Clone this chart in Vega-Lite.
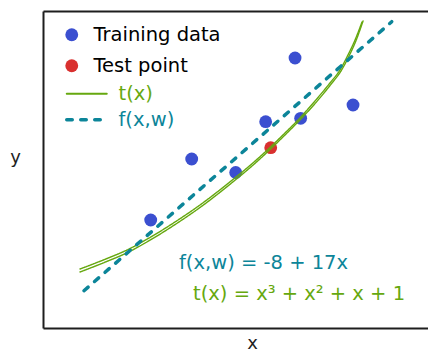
{
  "$schema": "https://vega.github.io/schema/vega-lite/v6.json",
  "width": 385,
  "height": 317,
  "autosize": "none",
  "padding": {"left": 43, "top": 11, "right": 0, "bottom": 25},
  "background": "white",
  "config": {
    "view": {"stroke": null},
    "font": "DejaVu Sans",
    "axis": {
      "domainColor": "#1e1e1e",
      "domainWidth": 2,
      "ticks": false,
      "labels": false,
      "grid": false,
      "titleFont": "DejaVu Sans",
      "titleFontSize": 18,
      "titleFontWeight": "normal",
      "titleColor": "#1e1e1e"
    },
    "legend": {
      "labelFont": "DejaVu Sans",
      "labelFontSize": 19.5,
      "title": null
    }
  },
  "datasets": {
    "points": [
      {"x": 2.620, "y": 48.04, "kind": "Training data"},
      {"x": 3.309, "y": 36.68, "kind": "Training data"},
      {"x": 2.271, "y": 32.65, "kind": "Training data"},
      {"x": 2.687, "y": 33.47, "kind": "Training data"},
      {"x": 1.392, "y": 23.63, "kind": "Training data"},
      {"x": 1.915, "y": 20.37, "kind": "Training data"},
      {"x": 0.905, "y": 8.89, "kind": "Training data"},
      {"x": 2.331, "y": 26.37, "kind": "Test point"}
    ],
    "curves": [
      {"curve": "t(x)", "strand": "a", "x": 0.065, "y": -2.95},
      {"curve": "t(x)", "strand": "a", "x": 0.362, "y": -0.60},
      {"curve": "t(x)", "strand": "a", "x": 0.635, "y": 1.76},
      {"curve": "t(x)", "strand": "a", "x": 0.896, "y": 4.66},
      {"curve": "t(x)", "strand": "a", "x": 1.193, "y": 8.41},
      {"curve": "t(x)", "strand": "a", "x": 1.490, "y": 12.52},
      {"curve": "t(x)", "strand": "a", "x": 1.882, "y": 18.68},
      {"curve": "t(x)", "strand": "a", "x": 2.084, "y": 22.06},
      {"curve": "t(x)", "strand": "a", "x": 2.322, "y": 26.41},
      {"curve": "t(x)", "strand": "a", "x": 2.500, "y": 29.92},
      {"curve": "t(x)", "strand": "a", "x": 2.678, "y": 33.54},
      {"curve": "t(x)", "strand": "a", "x": 2.857, "y": 37.65},
      {"curve": "t(x)", "strand": "a", "x": 3.035, "y": 42.00},
      {"curve": "t(x)", "strand": "a", "x": 3.154, "y": 45.14},
      {"curve": "t(x)", "strand": "a", "x": 3.249, "y": 48.77},
      {"curve": "t(x)", "strand": "a", "x": 3.333, "y": 52.39},
      {"curve": "t(x)", "strand": "a", "x": 3.416, "y": 56.74},
      {"curve": "t(x)", "strand": "b", "x": 0.065, "y": -3.67},
      {"curve": "t(x)", "strand": "b", "x": 0.362, "y": -1.30},
      {"curve": "t(x)", "strand": "b", "x": 0.635, "y": 1.09},
      {"curve": "t(x)", "strand": "b", "x": 0.896, "y": 4.01},
      {"curve": "t(x)", "strand": "b", "x": 1.193, "y": 7.78},
      {"curve": "t(x)", "strand": "b", "x": 1.490, "y": 11.91},
      {"curve": "t(x)", "strand": "b", "x": 1.882, "y": 18.10},
      {"curve": "t(x)", "strand": "b", "x": 2.084, "y": 21.51},
      {"curve": "t(x)", "strand": "b", "x": 2.322, "y": 25.91},
      {"curve": "t(x)", "strand": "b", "x": 2.500, "y": 29.43},
      {"curve": "t(x)", "strand": "b", "x": 2.678, "y": 33.07},
      {"curve": "t(x)", "strand": "b", "x": 2.869, "y": 37.29},
      {"curve": "t(x)", "strand": "b", "x": 3.047, "y": 41.69},
      {"curve": "t(x)", "strand": "b", "x": 3.166, "y": 44.90},
      {"curve": "t(x)", "strand": "b", "x": 3.262, "y": 48.53},
      {"curve": "t(x)", "strand": "b", "x": 3.345, "y": 52.27},
      {"curve": "t(x)", "strand": "b", "x": 3.428, "y": 56.98},
      {"curve": "f(x,w)", "strand": "c", "x": 0.112, "y": -8.19},
      {"curve": "f(x,w)", "strand": "c", "x": 3.769, "y": 56.81}
    ]
  },
  "resolve": {"scale": {"color": "independent"}, "axis": {"x": "independent"}},
  "layer": [
    {
      "data": {"name": "points"},
      "mark": {"type": "circle", "size": 165, "opacity": 1},
      "encoding": {
        "x": {
          "field": "x", "type": "quantitative",
          "scale": {"domain": [-0.375, 4.2], "nice": false, "zero": false},
          "axis": {"orient": "bottom", "title": "x", "titleX": 209, "titleY": 15, "titleBaseline": "middle", "titleAlign": "center"}
        },
        "y": {
          "field": "y", "type": "quantitative",
          "scale": {"domain": [-17.2, 59.4], "nice": false, "zero": false},
          "axis": {"title": "y", "titleAngle": 0, "titleX": -28, "titleY": 146, "titleBaseline": "middle", "titleAlign": "center"}
        },
        "color": {
          "field": "kind", "type": "nominal",
          "scale": {"domain": ["Training data", "Test point"], "range": ["#3b4fd0", "#d9302f"]},
          "legend": {
            "orient": "none", "legendX": 19, "legendY": 14,
            "symbolType": "circle", "symbolSize": 165, "symbolStrokeWidth": 0,
            "labelOffset": 12, "rowPadding": 10,
            "encode": {"labels": {"update": {"fill": {"signal": "datum.value === 'Training data' ? '#3b4fd0' : '#d9302f'"}}}}
          }
        }
      }
    },
    {
      "data": {"name": "curves"},
      "mark": {"type": "line", "strokeCap": "round", "interpolate": "monotone"},
      "encoding": {
        "x": {
          "field": "x", "type": "quantitative",
          "axis": {"orient": "top", "title": null}
        },
        "y": {"field": "y", "type": "quantitative"},
        "detail": {"field": "strand"},
        "color": {
          "field": "curve", "type": "nominal",
          "scale": {"domain": ["t(x)", "f(x,w)"], "range": ["#66a80f", "#0c8599"]},
          "legend": {
            "orient": "none", "legendX": 34, "legendY": 73,
            "symbolType": "stroke", "symbolSize": 1600,
            "labelOffset": 22, "rowPadding": 5,
            "encode": {
              "labels": {"update": {"fill": {"signal": "datum.value === 't(x)' ? '#66a80f' : '#0c8599'"}}},
              "symbols": {"update": {
                "strokeCap": {"value": "round"},
                "strokeWidth": {"signal": "datum.value === 't(x)' ? 2 : 3.5"},
                "strokeDash": {"signal": "datum.value === 't(x)' ? [1, 0] : [5.5, 8.5]"}
              }}
            }
          }
        },
        "strokeDash": {
          "field": "curve", "type": "nominal",
          "scale": {"domain": ["t(x)", "f(x,w)"], "range": [[1, 0], [5.5, 8.5]]},
          "legend": null
        },
        "strokeWidth": {
          "field": "curve", "type": "nominal",
          "scale": {"domain": ["t(x)", "f(x,w)"], "range": [1.4, 3.5]},
          "legend": null
        }
      }
    },
    {
      "data": {"values": [{}]},
      "mark": {"type": "text", "text": "f(x,w) = -8 + 17x", "align": "left", "baseline": "middle", "fontSize": 19.5, "color": "#0c8599"},
      "encoding": {
        "x": {"datum": 1.241, "type": "quantitative", "axis": null},
        "y": {"datum": -1.43, "type": "quantitative"}
      }
    },
    {
      "data": {"values": [{}]},
      "mark": {"type": "text", "text": "t(x) = x³ + x² + x + 1", "align": "left", "baseline": "middle", "fontSize": 19.5, "color": "#66a80f"},
      "encoding": {
        "x": {"datum": 1.408, "type": "quantitative", "axis": null},
        "y": {"datum": -8.99, "type": "quantitative"}
      }
    }
  ]
}
